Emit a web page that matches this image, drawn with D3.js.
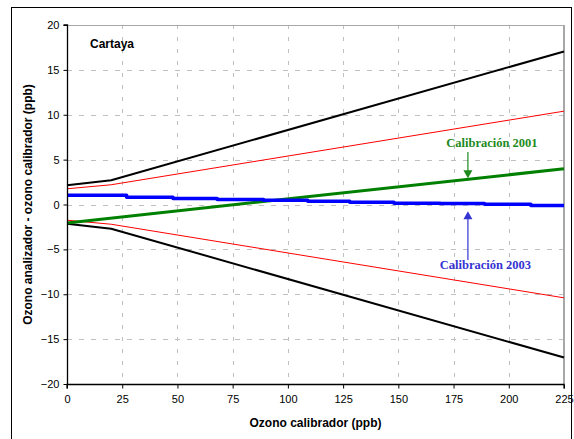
<!DOCTYPE html>
<html>
<head>
<meta charset="utf-8">
<script src="https://cdn.jsdelivr.net/npm/d3@7"></script>
<style>
  html, body { margin: 0; padding: 0; background: #fff; }
  svg { display: block; }
</style>
</head>
<body>
<script>
// ---- data ----
const xTicks = [0, 25, 50, 75, 100, 125, 150, 175, 200, 225];
const yTicks = [-20, -15, -10, -5, 0, 5, 10, 15, 20];

const blackUpperX = [0, 20, 225];
const blackUpperY = [2.15, 2.7, 17.05];
const blackLowerX = [0, 20, 225];
const blackLowerY = [-2.15, -2.7, -17.05];

const redUpperX = [0, 20, 225];
const redUpperY = [1.75, 2.2, 10.4];
const redLowerX = [0, 20, 225];
const redLowerY = [-1.75, -2.2, -10.4];

const green2001X = [0, 225];
const green2001Y = [-2.05, 3.98];

const blue2003X = [0, 27, 48, 68, 89, 109, 128, 148, 169, 189, 210, 225];
const blue2003Y = [1.02, 0.81, 0.67, 0.56, 0.47, 0.36, 0.24, 0.15, 0.1, 0.02, -0.1, -0.1];

const labels = {
  title: "Cartaya",
  xLabel: "Ozono calibrador (ppb)",
  yLabel: "Ozono analizador - ozono calibrador (ppb)",
  cal2001: "Calibración 2001",
  cal2003: "Calibración 2003"
};

// ---- layout ----
const W = 574, H = 439;
const L = 67, R = 564, T = 25, B = 384;

const svg = d3.select("body").append("svg").attr("width", W).attr("height", H);

// outer frame
svg.append("rect").attr("x", 11.5).attr("y", 7.5).attr("width", 560).attr("height", 440)
  .attr("fill", "none").attr("stroke", "#000").attr("stroke-width", 1);

const x = d3.scaleLinear().domain([0, 225]).range([L, R]);
const y = d3.scaleLinear().domain([-20, 20]).range([B, T]);

// grid
const grid = svg.append("g");
grid.selectAll("line.h").data(yTicks.filter(v => v > -20 && v < 20)).join("line")
  .attr("x1", L).attr("x2", R).attr("y1", d => Math.round(y(d)) + 0.5).attr("y2", d => Math.round(y(d)) + 0.5)
  .attr("stroke", "#c0c0c0").attr("stroke-width", 1).attr("stroke-dasharray", "5,7");
grid.selectAll("line.v").data(xTicks.filter(v => v > 0 && v < 225)).join("line")
  .attr("y1", T).attr("y2", B).attr("x1", d => Math.round(x(d)) + 0.5).attr("x2", d => Math.round(x(d)) + 0.5)
  .attr("stroke", "#c0c0c0").attr("stroke-width", 1).attr("stroke-dasharray", "4,8");

// plot border top/right (gray)
svg.append("line").attr("x1", L).attr("x2", R).attr("y1", T + 0.5).attr("y2", T + 0.5)
  .attr("stroke", "#a8a8a8").attr("stroke-width", 1);
svg.append("line").attr("x1", R).attr("x2", R).attr("y1", T).attr("y2", B)
  .attr("stroke", "#a8a8a8").attr("stroke-width", 2);

// series
const line = d3.line().x(d => x(d[0])).y(d => y(d[1]));
const stepLine = d3.line().x(d => x(d[0])).y(d => y(d[1])).curve(d3.curveStepAfter);
const zip = (a, b) => a.map((v, i) => [v, b[i]]);

function drawSeries(gen, xs, ys, color, width) {
  svg.append("path").datum(zip(xs, ys)).attr("d", gen)
    .attr("fill", "none").attr("stroke", color).attr("stroke-width", width)
    .attr("stroke-linejoin", "round");
}
drawSeries(line, redUpperX, redUpperY, "#ff0000", 1);
drawSeries(line, redLowerX, redLowerY, "#ff0000", 1);
drawSeries(line, blackUpperX, blackUpperY, "#000000", 2);
drawSeries(line, blackLowerX, blackLowerY, "#000000", 2);
drawSeries(line, green2001X, green2001Y, "#008000", 3);
drawSeries(stepLine, blue2003X, blue2003Y, "#0000ff", 3.5);

// axes
const yAxis = d3.axisLeft(y).tickValues(yTicks).tickSize(4).tickPadding(4);
const xAxis = d3.axisBottom(x).tickValues(xTicks).tickSize(4).tickPadding(7);
const gy = svg.append("g").attr("transform", `translate(${L + 0.5},0)`).call(yAxis);
const gx = svg.append("g").attr("transform", `translate(0,${B + 0.5})`).call(xAxis);
[gx, gy].forEach(g => {
  g.select(".domain").attr("stroke", "#000").attr("stroke-width", 1.3);
  g.selectAll(".tick line").attr("stroke", "#000");
  g.selectAll("text").attr("font-family", "Liberation Sans, Arial, sans-serif")
    .attr("font-size", 11).attr("fill", "#000");
});
gy.select(".domain").attr("d", `M-4,${T}H0V${B}`);
gx.select(".domain").attr("d", `M${L},4V0H${R}V4`);

// labels
const sans = "Liberation Sans, Arial, sans-serif";
svg.append("text").attr("x", 90).attr("y", 48).text(labels.title)
  .attr("font-family", sans).attr("font-weight", "bold").attr("font-size", 12);
svg.append("text").attr("x", (L + R) / 2).attr("y", 427).attr("text-anchor", "middle")
  .text(labels.xLabel).attr("font-family", sans).attr("font-weight", "bold").attr("font-size", 12);
svg.append("text").attr("transform", `translate(32,${(T + B) / 2}) rotate(-90)`).attr("text-anchor", "middle")
  .text(labels.yLabel).attr("font-family", sans).attr("font-weight", "bold").attr("font-size", 12);

// annotations
const serif = "Liberation Serif, Times New Roman, serif";
const ax = 181.5;
svg.append("text").attr("x", x(ax) + 24).attr("y", 147).attr("text-anchor", "middle")
  .text(labels.cal2001).attr("font-family", serif).attr("font-weight", "bold").attr("font-size", 12.5)
  .attr("fill", "#1e8a1e");
svg.append("text").attr("x", x(ax) + 17.5).attr("y", 269).attr("text-anchor", "middle")
  .text(labels.cal2003).attr("font-family", serif).attr("font-weight", "bold").attr("font-size", 12.5)
  .attr("fill", "#3434d2");

function arrow(x0, yStart, yTip, color) {
  const dir = yTip > yStart ? 1 : -1;
  svg.append("line").attr("x1", x0).attr("x2", x0).attr("y1", yStart).attr("y2", yTip - dir * 6)
    .attr("stroke", color).attr("stroke-width", 1.2);
  svg.append("path")
    .attr("d", `M${x0},${yTip}L${x0 - 4.5},${yTip - dir * 8}L${x0 + 4.5},${yTip - dir * 8}Z`)
    .attr("fill", color);
}
const gTip = y(-2.05 + 6.03 * ax / 225) - 1;
arrow(x(ax), 152, gTip, "#1e8a1e");
arrow(x(ax), 260, y(-0.75), "#3434d2");
</script>
</body>
</html>
